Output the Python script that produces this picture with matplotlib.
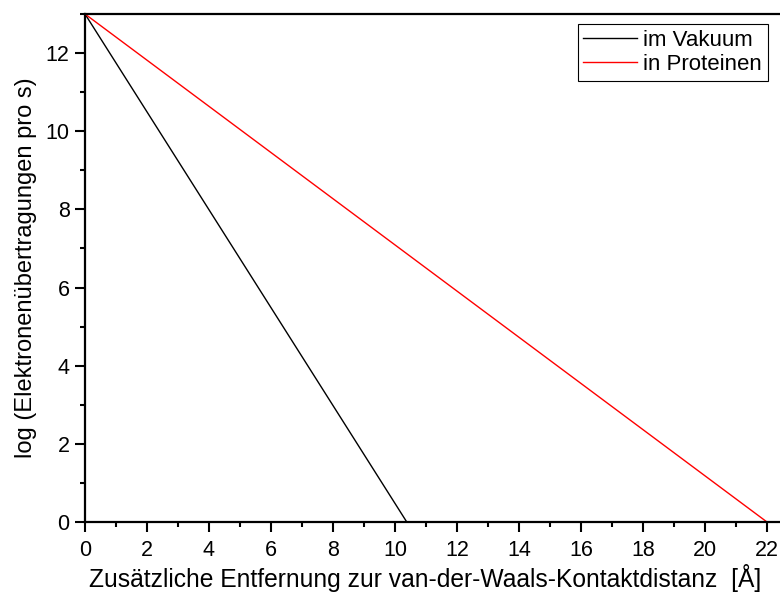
import numpy as np
import matplotlib
matplotlib.use("Agg")
import matplotlib.pyplot as plt
from matplotlib.ticker import MultipleLocator

plt.rcParams['font.family'] = ['Liberation Sans', 'DejaVu Sans']

# line endpoints (distance in Angstrom, log rate)
vakuum_x = [0, 10.38]
vakuum_y = [13, 0]
protein_x = [0, 22.0]
protein_y = [13, 0]

x_ticks = list(range(0, 23, 2))
y_ticks = list(range(0, 13, 2))

fig = plt.figure(figsize=(7.8, 5.92), dpi=100)
ax = fig.add_axes([85 / 780, 70 / 592, 1 - 85 / 780, (522 - 14) / 592])

ax.plot(vakuum_x, vakuum_y, color='black', lw=1.0, label='im Vakuum')
ax.plot(protein_x, protein_y, color='red', lw=1.0, label='in Proteinen')

ax.set_xlim(0, 22.42)
ax.set_ylim(0, 13)
ax.set_xticks(x_ticks)
ax.set_yticks(y_ticks)
ax.xaxis.set_minor_locator(MultipleLocator(1))
ax.yaxis.set_minor_locator(MultipleLocator(1))
ax.tick_params(which='major', direction='out', length=7, width=1.5, labelsize=15.5)
ax.tick_params(axis='x', which='major', pad=6)
ax.tick_params(axis='y', which='major', pad=4)
ax.tick_params(which='minor', direction='out', length=3.5, width=1.5)

ax.spines['right'].set_visible(False)
for s in ['left', 'bottom', 'top']:
    ax.spines[s].set_linewidth(1.6)

ax.set_xlabel('Zusätzliche Entfernung zur van-der-Waals-Kontaktdistanz  [Å]', fontsize=17.7)
ax.xaxis.set_label_coords((425 - 85) / 695, -0.083)
ax.set_ylabel('log (Elektronenübertragungen pro s)', fontsize=17, labelpad=6)

leg = ax.legend(loc='upper right', bbox_to_anchor=(0.992, 0.993), fontsize=16,
                frameon=True, fancybox=False, edgecolor='black', framealpha=1,
                handlelength=2.4, handletextpad=0.3, borderpad=0.25, labelspacing=0.15,
                borderaxespad=0.3)
leg.get_frame().set_linewidth(0.8)

fig.savefig('out.png', dpi=100)
